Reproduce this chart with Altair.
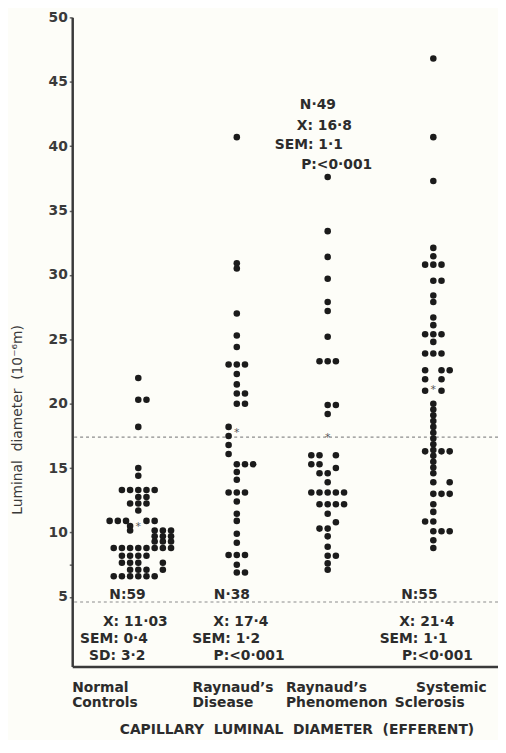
import altair as alt
import pandas as pd

# ---------------- data ----------------
groups = ["Normal Controls", "Raynaud's Disease", "Raynaud's Phenomenon", "Systemic Sclerosis"]
group_center = [8.07, 20.1, 31.2, 44.1]          # column centre on the x scale (dot-width units)

# Normal Controls (N = 59): luminal diameter and dot column offset
nc_values = [22.0, 20.3, 20.3, 18.2, 15.0, 14.4,
             13.3, 13.3, 13.3, 13.3, 13.3,
             12.75, 12.75,
             12.25, 12.25, 12.25,
             11.7,
             10.9, 10.9, 10.9, 10.9, 10.9,
             10.5,
             10.15, 10.15, 10.15, 10.15,
             9.7, 9.7, 9.7,
             9.3, 9.3, 9.3,
             8.8, 8.8, 8.8, 8.8, 8.8, 8.8, 8.8, 8.8,
             8.2, 8.2, 8.2, 8.2,
             7.65, 7.65, 7.65, 7.65,
             7.1, 7.1, 7.1, 7.1,
             6.6, 6.6, 6.6, 6.6, 6.6, 6.6]
nc_cols = [0, 0, 1, 0, 0, 0,
           -2, -1, 0, 1, 2,
           0, 1,
           -1, 0, 1,
           0,
           -3.5, -2.5, -1.5, 1, 2,
           -1,
           -1, 2, 3, 4,
           2, 3, 4,
           2, 3, 4,
           -3, -2, -1, 0, 1, 2, 3, 4,
           -2, -1, 0, 1,
           -2, -1, 0, 3,
           -1, 0, 1, 3,
           -3, -2, -1, 0, 1, 2]

# Raynaud's Disease (N = 38)
rd_values = [40.7, 30.9, 30.5, 27.0, 25.3, 24.4,
             23.05, 23.05, 23.05,
             22.3, 21.5,
             20.8, 20.8,
             20.0, 20.0,
             18.2, 17.5, 16.8, 16.1,
             15.3, 15.3, 15.3,
             14.7, 14.1,
             13.1, 13.1, 13.1,
             12.4, 11.45, 10.9, 9.9, 9.2,
             8.25, 8.25, 8.25,
             7.5,
             6.9, 6.9]
rd_cols = [0, 0, 0, 0, 0, 0,
           -1, 0, 1,
           0, 0,
           0, 1,
           0, 1,
           -1, -1, -1, -1,
           0, 1, 2,
           0, 0,
           -1, 0, 1,
           0, 0, 0, 0, 0,
           -1, 0, 1,
           0,
           0, 1]

# Raynaud's Phenomenon (N = 49)
rp_values = [37.6, 33.4, 31.4, 29.7, 27.9, 27.2, 25.2,
             23.3, 23.3, 23.3,
             19.9, 19.9, 19.2,
             16.0, 16.0, 16.0,
             15.3, 15.3, 15.0,
             14.6, 14.6, 13.9,
             13.1, 13.1, 13.1, 13.1, 13.1,
             12.2, 12.2, 12.2, 12.2,
             11.45, 10.8,
             10.3, 10.3,
             9.7, 8.9,
             8.2, 8.2,
             7.6, 7.1]
rp_cols = [0, 0, 0, 0, 0, 0, 0,
           -1, 0, 1,
           0, 1, 0,
           -2, -1, 1,
           -2, -1, 1,
           -1, 0, 0,
           -2, -1, 0, 1, 2,
           -1, 0, 1, 2,
           0, 1,
           -1, 0,
           0, 0,
           0, 1,
           0, 0]

# Systemic Sclerosis (N = 55)
ss_values = [46.8, 40.7, 37.3, 32.1, 31.45,
             30.8, 30.8, 30.8,
             29.55, 29.55,
             28.4, 27.9, 26.7, 26.1,
             25.4, 25.4, 25.4,
             24.8,
             23.9, 23.9, 23.9,
             22.6, 22.6, 22.6,
             21.9, 21.9,
             21.0, 21.0,
             20.0, 19.55, 19.1, 18.65, 18.2, 17.75, 17.3, 16.85, 16.4, 15.95, 15.5, 15.05, 14.6,
             16.3, 16.3, 16.3,
             13.9, 13.9,
             13.0, 13.0, 13.0,
             12.2, 11.6,
             10.85, 10.85,
             10.1, 10.1, 10.1,
             9.4, 8.8]
ss_cols = [0, 0, 0, 0, 0,
           -1, 0, 1,
           0, 1,
           0, 0, 0, 0,
           -1, 0, 1,
           0,
           -1, 0, 1,
           -1, 1, 2,
           -1, 1,
           -1, 1,
           0, 0, 0, 0, 0, 0, 0, 0, 0, 0, 0, 0, 0,
           -1, 1, 2,
           0, 2,
           0, 1, 2,
           0, 0,
           -1, 0,
           0, 1, 2,
           0, 0]

# group means marked with an asterisk (position)
mean_y = [10.6, 17.9, 17.5, 21.2]

# reference lines (mean +/- 2 SD of normal controls)
ref_lines = [17.4, 4.6]

# statistics annotations
ann_text = ["N:59", "X: 11·03", "SEM: 0·4", "SD: 3·2",
            "N·38", "X: 17·4", "SEM: 1·2", "P:<0·001",
            "N·49", "X: 16·8", "SEM: 1·1", "P:<0·001",
            "N:55", "X: 21·4", "SEM: 1·1", "P:<0·001"]
ann_x = [6.75, 7.7, 5.1, 5.5,
         19.5, 20.6, 18.8, 21.6,
         30.0, 30.8, 28.9, 32.3,
         42.4, 43.3, 41.7, 44.6]
ann_y = [5.14, 3.07, 1.76, 0.38,
         5.14, 3.07, 1.76, 0.38,
         43.17, 41.56, 40.1, 38.57,
         5.14, 3.07, 1.76, 0.38]

# category labels (two lines each)
cat_text = ["Normal", "Controls", "Raynaud’s", "Disease",
            "Raynaud’s", "Phenomenon", "Systemic", "Sclerosis"]
cat_x = [0.0, 0.0, 14.7, 14.7, 26.1, 26.1, 42.0, 39.4]
cat_y = [-2.07, -3.22, -2.07, -3.22, -2.07, -3.22, -2.07, -3.22]

y_ticks = [5, 7.5, 10, 15, 20, 25, 30, 35, 40, 45, 50]

# ---------------- tables ----------------
rows = []
for g, c, vals, cols in zip(groups, group_center,
                            [nc_values, rd_values, rp_values, ss_values],
                            [nc_cols, rd_cols, rp_cols, ss_cols]):
    for v, o in zip(vals, cols):
        rows.append({"group": g, "x": c + o, "y": v})
dots = pd.DataFrame(rows)
means = pd.DataFrame({"x": group_center, "y": mean_y})
lines = pd.DataFrame({"y": ref_lines})
ann = pd.DataFrame({"x": ann_x, "y": ann_y, "t": ann_text})
cats = pd.DataFrame({"x": cat_x, "y": cat_y, "t": cat_text})

FONT = "DejaVu Sans"
INK = "#2c2c2c"

x_scale = alt.Scale(domain=[0, 52], nice=False, zero=False)
y_scale = alt.Scale(domain=[-0.4, 50], nice=False, zero=False)

x_axis = alt.Axis(labels=False, ticks=False, grid=False,
                  domainColor="#3a3a3a", domainWidth=2.5,
                  title="CAPILLARY\u00a0 LUMINAL\u00a0 DIAMETER\u00a0 (EFFERENT)",
                  titleFont=FONT, titleFontSize=14, titleFontWeight="bold",
                  titleColor=INK, titleX=227, titleY=64, titleBaseline="middle")
y_axis = alt.Axis(values=y_ticks, grid=False,
                  labelExpr="datum.value == 7.5 ? '' : datum.label",
                  domainColor="#3a3a3a", domainWidth=2.5,
                  tickColor="#666666", tickSize=3, tickWidth=1.5,
                  labelFont=FONT, labelFontSize=14, labelFontWeight="bold",
                  labelColor="#3a3a3a", labelPadding=2,
                  title="Luminal\u00a0 diameter\u00a0 (10⁻⁶m)",
                  titleFont=FONT, titleFontSize=14, titleFontWeight="normal",
                  titleColor="#3a3a3a", titleAngle=270, titleX=-55, titleY=407,
                  titleBaseline="middle", titleAlign="center")


def X():
    return alt.X("x:Q", scale=x_scale, axis=x_axis)


def Y():
    return alt.Y("y:Q", scale=y_scale, axis=y_axis)


rules = alt.Chart(lines).mark_rule(color="#8c8c8c", strokeDash=[3, 3], strokeWidth=1.2).encode(y=Y())

points = alt.Chart(dots).mark_circle(size=44, color="#1b1b1b", opacity=1).encode(x=X(), y=Y())

stars = alt.Chart(means).mark_text(text="*", font=FONT, fontSize=11, color="#555555",
                                   baseline="middle", dy=2).encode(x=X(), y=Y())

stats = alt.Chart(ann).mark_text(font=FONT, fontSize=14, fontWeight="bold", color=INK,
                                 align="center", baseline="middle").encode(x=X(), y=Y(), text="t:N")

labels = alt.Chart(cats).mark_text(font=FONT, fontSize=14, fontWeight="bold", color=INK,
                                   align="left", baseline="middle").encode(x=X(), y=Y(), text="t:N")

chart = alt.layer(rules, points, stars, stats, labels).properties(
    width=431, height=657,
    background="#fdfdf8",
    padding={"left": 65, "top": 5, "right": 0, "bottom": 70},
    autosize=alt.AutoSizeParams(type="none"),
).configure_view(stroke=None)

chart.save("out.html", embed_options={"renderer": "svg", "actions": False})
